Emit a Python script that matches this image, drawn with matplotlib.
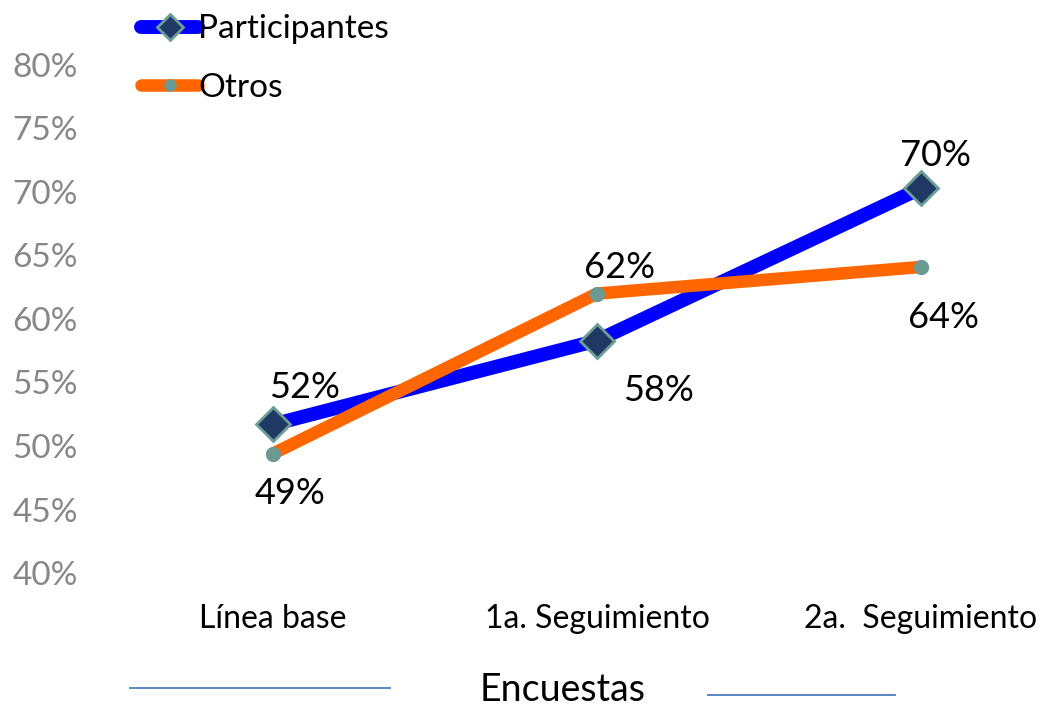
import matplotlib

matplotlib.use("Agg")
import matplotlib.pyplot as plt
from matplotlib.lines import Line2D
from matplotlib.ticker import FuncFormatter

plt.rcParams["font.family"] = ["Lato", "DejaVu Sans"]

categories = ["Línea base", "1a. Seguimiento", "2a.  Seguimiento"]
participantes = [0.517, 0.583, 0.703]
otros = [0.494, 0.620, 0.641]
y_ticks = [0.40, 0.45, 0.50, 0.55, 0.60, 0.65, 0.70, 0.75, 0.80]

# label offsets in pixels (dx, dy) from each point
p_offsets = [(32, 37), (61, -50), (14, 33)]
o_offsets = [(17, -40), (23, 26), (22, -51)]

W, H = 1051, 706
fig = plt.figure(figsize=(W / 100, H / 100), dpi=100)

# axes: x=0 at 273px, 324px per category; 40% at y=573px, 80% at y=65px
left_px, right_px = 100, 1045
ax = fig.add_axes([left_px / W, 1 - 573 / H, (right_px - left_px) / W, (573 - 65) / H])
ax.set_xlim((left_px - 273) / 324, 2 + (right_px - 921) / 324)
ax.set_ylim(0.40, 0.80)

xs = list(range(len(categories)))
ax.plot(xs, participantes, color="#0000FF", lw=10, solid_capstyle="round",
        marker="D", ms=17, mfc="#1F3864", mec="#6A9E97", mew=2,
        label="Participantes", zorder=3)
ax.plot(xs, otros, color="#FF6600", lw=9, solid_capstyle="round",
        marker="o", ms=10, mfc="#6A9A92", mec="#6A9A92",
        label="Otros", zorder=4)

for x, v, (dx, dy) in zip(xs, participantes, p_offsets):
    ax.annotate(f"{v:.0%}", (x, v), textcoords="offset pixels", xytext=(dx, dy),
                ha="center", va="center", fontsize=26, color="black")
for x, v, (dx, dy) in zip(xs, otros, o_offsets):
    ax.annotate(f"{v:.0%}", (x, v), textcoords="offset pixels", xytext=(dx, dy),
                ha="center", va="center", fontsize=26, color="black")

ax.set_yticks(y_ticks)
ax.yaxis.set_major_formatter(FuncFormatter(lambda v, _: f"{v:.0%}"))
ax.set_xticks(xs)
ax.set_xticklabels(categories)
ax.tick_params(axis="y", length=0, labelsize=24, labelcolor="#878787", pad=16)
ax.tick_params(axis="x", length=0, labelsize=23, labelcolor="black", pad=22)
for s in ax.spines.values():
    s.set_visible(False)

leg = fig.legend(loc="upper left", bbox_to_anchor=(128 / W, 1 - 1 / H), frameon=False,
                 fontsize=24, handlelength=1.7, handletextpad=0.0,
                 labelspacing=0.85, borderaxespad=0, markerscale=0.8)

fig.text(563 / W, 1 - 690 / H, "Encuestas", ha="center", va="center",
         fontsize=27, color="black")
fig.add_artist(Line2D([130 / W, 390 / W], [1 - 688 / H, 1 - 688 / H],
                      color="#4A7EBB", lw=1.3))
fig.add_artist(Line2D([708 / W, 895 / W], [1 - 695 / H, 1 - 695 / H],
                      color="#4A7EBB", lw=1.3))

fig.savefig("out.png", dpi=100)
